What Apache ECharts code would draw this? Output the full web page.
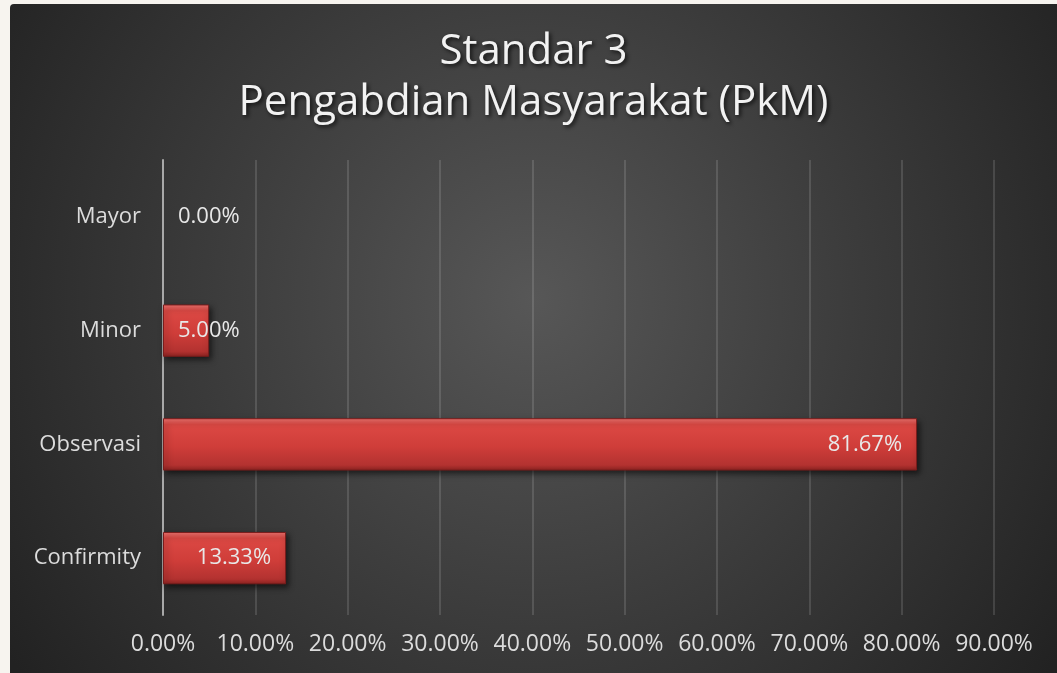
<!DOCTYPE html>
<html>
<head>
<meta charset="utf-8">
<script src="https://cdn.jsdelivr.net/npm/echarts@6/dist/echarts.min.js"></script>
<style>
  html, body { margin: 0; padding: 0; background: #f7f4ef; width: 1057px; height: 673px; overflow: hidden; }
  #chart { position: absolute; left: 10px; top: 4px; width: 1047px; height: 669px; border-radius: 4px 0 0 0; overflow: hidden; }
</style>
</head>
<body>
<div id="chart"></div>
<script>
const titleLines = ['Standar 3', 'Pengabdian Masyarakat (PkM)'];
const categories = ['Confirmity', 'Observasi', 'Minor', 'Mayor'];
const values = [13.33, 81.67, 5.00, 0.00];
const axisMax = 90;
const axisStep = 10;

const FONT = '"Open Sans", Lato, sans-serif';
const chart = echarts.init(document.getElementById('chart'));

const barFill = new echarts.graphic.LinearGradient(0, 0, 0, 1, [
  { offset: 0, color: '#f07470' },
  { offset: 0.12, color: '#dc4944' },
  { offset: 0.55, color: '#cf3d39' },
  { offset: 0.9, color: '#b33230' },
  { offset: 1, color: '#8e2321' }
]);

const option = {
  backgroundColor: new echarts.graphic.RadialGradient(0.5, 0.44, 0.95, [
    { offset: 0, color: '#575757' },
    { offset: 0.5, color: '#3c3c3c' },
    { offset: 1, color: '#222222' }
  ]),
  title: {
    text: titleLines.join('\n'),
    left: 'center',
    top: 18,
    textStyle: {
      fontFamily: FONT,
      fontSize: 42,
      fontWeight: 'normal',
      color: '#f2f2f2',
      lineHeight: 51,
      textShadowColor: 'rgba(0,0,0,0.75)',
      textShadowBlur: 4,
      textShadowOffsetX: 2,
      textShadowOffsetY: 2
    }
  },
  grid: { left: 153, right: 63, top: 156, bottom: 58, containLabel: false },
  xAxis: {
    type: 'value',
    min: 0,
    max: axisMax,
    interval: axisStep,
    axisLine: { show: false },
    axisTick: { show: false },
    splitLine: { show: true, lineStyle: { color: 'rgba(255,255,255,0.13)', width: 2 } },
    axisLabel: {
      color: '#dcdcdc',
      fontFamily: FONT,
      fontSize: 23,
      margin: 18,
      formatter: v => v.toFixed(2) + '%'
    }
  },
  yAxis: {
    type: 'category',
    data: categories,
    axisLine: { show: true, lineStyle: { color: '#a8a8a8', width: 2 } },
    axisTick: { show: false },
    splitLine: { show: false },
    axisLabel: {
      color: '#dcdcdc',
      fontFamily: FONT,
      fontSize: 22,
      margin: 22
    }
  },
  series: [{
    type: 'bar',
    barCategoryGap: '54%',
    data: values.map(v => ({
      value: v,
      label: { position: v < 10 ? 'insideLeft' : 'insideRight' },
      itemStyle: v === 0 ? { color: 'rgba(0,0,0,0)', borderWidth: 0, shadowBlur: 0, shadowOffsetX: 0, shadowOffsetY: 0, shadowColor: 'rgba(0,0,0,0)' } : {}
    })),
    itemStyle: {
      color: barFill,
      borderColor: '#7a1d1c',
      borderWidth: 1,
      shadowColor: 'rgba(0,0,0,0.6)',
      shadowBlur: 6,
      shadowOffsetX: 2,
      shadowOffsetY: 3
    },
    label: {
      show: true,
      distance: 15,
      color: '#e8e8e8',
      fontFamily: FONT,
      fontSize: 22,
      formatter: p => p.value.toFixed(2) + '%'
    }
  }]
};
chart.setOption(option);
</script>
</body>
</html>
